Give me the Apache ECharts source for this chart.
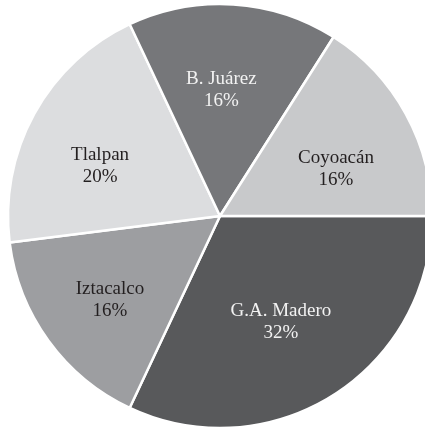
<!DOCTYPE html>
<html>
<head>
<meta charset="utf-8">
<script src="https://cdn.jsdelivr.net/npm/echarts@6/dist/echarts.min.js"></script>
<style>html,body{margin:0;padding:0;background:#fff;}#c{width:425px;height:430px;}</style>
</head>
<body>
<div id="c"></div>
<script>
const categories = ['G.A. Madero', 'Iztacalco', 'Tlalpan', 'B. Juárez', 'Coyoacán'];
const values = [32, 16, 20, 16, 16];
const sliceColors = ['#58595b', '#9d9ea1', '#dcdddf', '#76777a', '#c8c9cb'];
const labelColors = ['#f2f2f2', '#231f20', '#231f20', '#f2f2f2', '#231f20'];
const labelOffsets = [[-10, -6], [-3, 6], [-4, 14], [-7, 6], [0, 17]];

const chart = echarts.init(document.getElementById('c'));
const R = 212;
const font = '"Liberation Serif", "DejaVu Serif", serif';
chart.setOption({
  animation: false,
  series: [
    {
      type: 'pie',
      center: [220, 216],
      radius: [0, R],
      startAngle: 0,
      clockwise: true,
      silent: true,
      label: { show: false },
      labelLine: { show: false },
      itemStyle: { borderColor: '#ffffff', borderWidth: 2.5 },
      data: categories.map((c, i) => ({ name: c, value: values[i], itemStyle: { color: sliceColors[i] } }))
    },
    {
      type: 'pie',
      center: [220, 216],
      radius: [0, R * 1.22],
      startAngle: 0,
      clockwise: true,
      silent: true,
      z: 5,
      itemStyle: { color: 'rgba(0,0,0,0)' },
      label: {
        show: true,
        position: 'inside',
        fontFamily: font,
        fontSize: 19,
        lineHeight: 22,
        formatter: p => p.name + '\n' + p.value + '%'
      },
      labelLine: { show: false },
      data: categories.map((c, i) => ({ name: c, value: values[i], label: { color: labelColors[i], offset: labelOffsets[i] } }))
    }
  ]
});
</script>
</body>
</html>
